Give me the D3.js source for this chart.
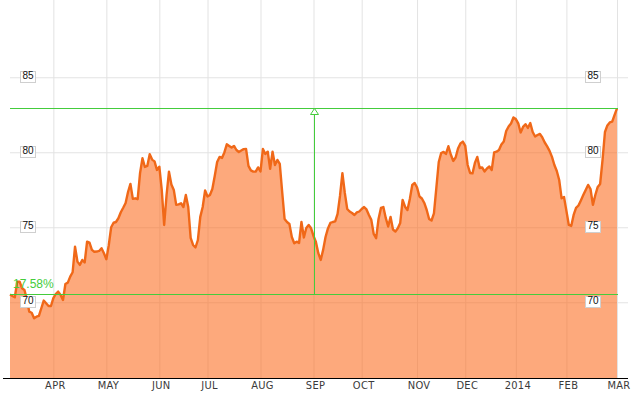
<!DOCTYPE html>
<html><head><meta charset="utf-8">
<script src="https://cdn.jsdelivr.net/npm/d3@7"></script>
<style>html,body{margin:0;padding:0;background:#fff;} svg{display:block}</style>
</head><body><svg id="c" width="632" height="396"></svg>
<script>
// Daily closing prices, one per trading session (index 0 = first session shown)
const prices = [
70.52,70.42,70.33,71.37,71.37,70.93,70.82,70.2,69.37,69.3,
68.93,69.04,69.09,69.6,70.11,69.93,69.75,69.75,70.27,70.55,
70.71,70.49,70.15,71.22,71.31,71.71,72.0,73.71,72.71,72.49,
72.82,72.65,74.04,73.97,73.49,73.37,73.38,73.42,73.6,73.27,
72.87,73.8,75.0,75.3,75.35,75.6,76.0,76.3,76.62,77.35,
77.89,76.89,76.93,76.87,78.62,79.6,79.02,79.09,79.87,79.51,
79.39,78.82,79.04,77.49,75.15,77.15,78.71,77.85,77.49,76.49,
76.53,76.6,76.35,77.15,76.35,74.29,73.82,73.65,74.15,75.69,
76.35,77.45,77.05,77.15,77.55,78.42,79.35,79.69,79.62,79.99,
80.53,80.42,80.31,80.42,80.15,80.02,80.12,80.21,80.22,79.09,
78.79,78.71,78.71,78.99,78.72,80.22,79.89,80.04,78.9,80.04,
79.15,79.49,79.22,77.35,75.55,75.35,75.22,74.35,73.93,74.04,
73.95,75.35,74.32,74.95,75.15,74.93,74.42,74.02,73.27,72.82,
73.49,74.35,74.92,75.29,75.35,75.39,75.89,77.09,78.6,77.29,
76.22,76.05,75.95,75.82,75.99,76.05,76.22,76.35,76.19,75.82,
75.49,74.55,74.27,75.55,76.29,76.35,75.62,75.05,75.69,74.85,
74.71,74.93,75.29,76.82,76.37,76.15,76.89,77.82,77.95,77.65,
77.05,76.92,76.62,76.15,75.55,75.45,75.93,77.62,79.35,79.95,
80.02,79.89,80.4,79.85,79.42,79.65,80.25,80.59,80.71,80.42,
79.15,78.62,78.59,79.29,79.69,78.95,78.99,78.72,78.92,79.05,
78.82,79.99,80.04,80.15,80.52,80.72,81.42,81.72,81.92,82.32,
82.21,81.93,81.32,81.69,81.87,81.62,81.95,81.35,81.05,81.15,
81.22,80.99,80.65,80.39,80.09,79.69,79.15,78.75,78.15,76.93,
77.02,76.09,75.15,75.09,75.82,76.29,76.45,76.79,77.15,77.49,
77.82,77.55,76.49,77.15,77.69,77.89,79.49,81.35,81.79,81.99,
82.04,82.49,82.92
];
// first session of each month (session index) and its label
const monthTickDays = [18,40,62,82,104,126,146,169,189,210,231,252];
const monthTickLabels = ["APR","MAY","JUN","JUL","AUG","SEP","OCT","NOV","DEC","2014","FEB","MAR"];
const priceTicks = [70,75,80,85];
const markerDay = 126;

const svg = d3.select("#c");
const x = d3.scaleLinear().domain([0, prices.length - 1]).range([10, 617]);
const y = d3.scaleLinear().domain([64.95, 90.15]).range([378, 0]);
const GREEN = "#44cc3c";
const GRID = "#e3e3e3";

// horizontal gridlines
const gy = svg.append("g").attr("transform", "translate(10,0)")
  .call(d3.axisLeft(y).tickValues(priceTicks).tickSize(-618).tickFormat(""));
gy.select(".domain").remove();
gy.selectAll(".tick line").attr("stroke", GRID);

// vertical gridlines + month labels
const gx = svg.append("g").attr("transform", "translate(0,378)")
  .call(d3.axisBottom(x).tickValues(monthTickDays).tickSize(-378)
    .tickFormat((d, i) => monthTickLabels[i]));
gx.select(".domain").remove();
gx.selectAll(".tick line").attr("stroke", GRID);
gx.selectAll(".tick text")
  .attr("y", 11).attr("dy", 0).attr("dx", 1.5)
  .attr("fill", "#3a3a3a")
  .style("font-family", "'Liberation Sans Narrow','DejaVu Sans Condensed','Arial Narrow',sans-serif")
  .style("font-size", "11px")
  .style("letter-spacing", "0.3px");

// area + line
const area = d3.area().x((d, i) => x(i)).y0(y(64.95)).y1(d => y(d));
svg.append("path").datum(prices).attr("d", area)
  .attr("fill", "#fb6a1e").attr("fill-opacity", 0.58);
const line = d3.line().x((d, i) => x(i)).y(d => y(d));
svg.append("path").datum(prices).attr("d", line)
  .attr("fill", "none").attr("stroke", "#f06818").attr("stroke-width", 2.4)
  .attr("stroke-linejoin", "round");

// baseline
svg.append("line").attr("x1", 3).attr("x2", 628)
  .attr("y1", y(64.95) + 0.5).attr("y2", y(64.95) + 0.5)
  .attr("stroke", "#000").attr("stroke-width", 1);

// change measurement (green)
const first = prices[0], last = prices[prices.length - 1];
[first, last].forEach(v => {
  svg.append("line").attr("x1", x(0)).attr("x2", x(prices.length - 1) + 1)
    .attr("y1", Math.round(y(v)) + 0.5).attr("y2", Math.round(y(v)) + 0.5)
    .attr("stroke", GREEN).attr("stroke-width", 1);
});
const mx = Math.round(x(markerDay)) + 0.5;
const yt = Math.round(y(last)) + 0.5;
svg.append("line").attr("x1", mx).attr("x2", mx)
  .attr("y1", Math.round(y(first)) + 0.5).attr("y2", yt + 6)
  .attr("stroke", GREEN).attr("stroke-width", 1);
svg.append("path")
  .attr("d", `M${mx},${yt} L${mx - 4},${yt + 6} L${mx + 4},${yt + 6} Z`)
  .attr("fill", "#fff").attr("stroke", GREEN).attr("stroke-width", 1);
svg.append("text").attr("x", 13).attr("y", Math.round(y(first)) - 6)
  .attr("fill", GREEN)
  .style("font-family", "'Liberation Sans',Arial,sans-serif").style("font-size", "12px")
  .text(d3.format(".2%")(last / first - 1));

// price labels in boxes, both sides
[20, 585].forEach(bx => {
  const g = svg.append("g");
  priceTicks.forEach(v => {
    const cy = y(v);
    g.append("rect").attr("x", bx + 0.5).attr("y", Math.round(cy - 6.5) + 0.5)
      .attr("width", 15).attr("height", 11)
      .attr("fill", "#fff").attr("stroke", "#cfcfcf").attr("stroke-width", 1);
    g.append("text").attr("x", bx + 8).attr("y", cy + 2)
      .attr("text-anchor", "middle").attr("fill", "#111")
      .style("font-family", "'Liberation Sans',Arial,sans-serif").style("font-size", "10px")
      .text(v);
  });
});
</script>
</body></html>
